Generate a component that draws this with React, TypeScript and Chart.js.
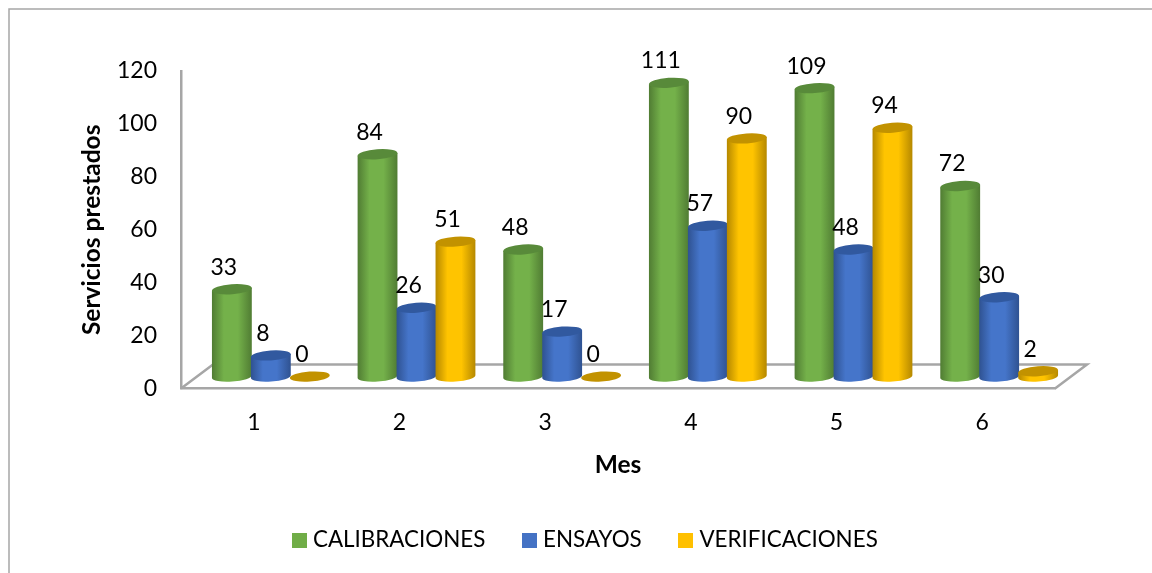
import { useEffect, useRef } from "react";
import { Chart, registerables } from "chart.js";

Chart.register(...registerables);

const months = ["1", "2", "3", "4", "5", "6"];
const calibraciones = [33, 84, 48, 111, 109, 72];
const ensayos = [8, 26, 17, 57, 48, 30];
const verificaciones = [0, 51, 0, 90, 94, 2];

const FONT = "Lato, Carlito, Calibri, sans-serif";
const GRAY = "#a6a6a6";

// Oblique offset of the floor's back edge and of the columns standing on it.
const FLOOR_DX = 32;
const FLOOR_DY = 24;
const BAR_DX = 17;
const BAR_DY = 12;
const TILT = (-4 * Math.PI) / 180;
const CAP_RY = 5;

const LEGEND_DX = 60;
const LEGEND_TOP = 487;

const shades = [
  { edge: "#507c33", mid: "#74b14a", cap: "#588a3a" },
  { edge: "#2f5291", mid: "#4575ca", cap: "#31599f" },
  { edge: "#b58800", mid: "#ffc400", cap: "#c29200" },
];

function drawCylinder(ctx: CanvasRenderingContext2D, x: number, top: number, base: number, width: number, shade: (typeof shades)[number]) {
  const rx = width / 2;
  const side = ctx.createLinearGradient(x - rx, 0, x + rx, 0);
  side.addColorStop(0, shade.edge);
  side.addColorStop(0.3, shade.mid);
  side.addColorStop(0.65, shade.mid);
  side.addColorStop(1, shade.edge);

  if (base - top > 0.5) {
    const dx = rx * Math.cos(TILT);
    const dy = rx * Math.sin(TILT);
    ctx.beginPath();
    ctx.moveTo(x - dx, top - dy);
    ctx.lineTo(x - dx, base - dy);
    ctx.ellipse(x, base, rx, CAP_RY, TILT, Math.PI, 0, true);
    ctx.lineTo(x + dx, top + dy);
    ctx.closePath();
    ctx.fillStyle = side;
    ctx.fill();
  }
  ctx.beginPath();
  ctx.ellipse(x, top, rx, CAP_RY, TILT, 0, Math.PI * 2);
  ctx.fillStyle = shade.cap;
  ctx.fill();
}

// A filled square used as the legend key, so its size can differ from the space it reserves.
function legendSwatch(color: string) {
  const swatch = document.createElement("canvas");
  swatch.width = 15;
  swatch.height = 15;
  const g = swatch.getContext("2d")!;
  g.fillStyle = color;
  g.fillRect(0, 0, 15, 15);
  return swatch;
}

const cylinderPlugin = {
  id: "cylinders",
  afterLayout(chart: any) {
    const legend = chart.legend;
    legend.left += LEGEND_DX;
    legend.right += LEGEND_DX;
    legend.bottom += LEGEND_TOP - legend.top;
    legend.top = LEGEND_TOP;
  },
  beforeDraw(chart: Chart) {
    const { ctx, width, height } = chart;
    ctx.save();
    ctx.strokeStyle = GRAY;
    ctx.lineWidth = 1.5;
    ctx.beginPath();
    ctx.moveTo(9, height);
    ctx.lineTo(9, 9);
    ctx.lineTo(width, 9);
    ctx.stroke();
    ctx.restore();
  },
  beforeDatasetsDraw(chart: Chart) {
    const { ctx, chartArea } = chart;
    const { left, right, bottom } = chartArea;

    ctx.save();
    ctx.strokeStyle = GRAY;
    ctx.lineWidth = 2.5;
    ctx.beginPath();
    ctx.moveTo(left, bottom);
    ctx.lineTo(left + FLOOR_DX, bottom - FLOOR_DY);
    ctx.lineTo(right + FLOOR_DX, bottom - FLOOR_DY);
    ctx.lineTo(right, bottom);
    ctx.stroke();

    chart.data.datasets.forEach((_, i) => {
      chart.getDatasetMeta(i).data.forEach((el: any) => {
        const { x, y, base, width } = el.getProps(["x", "y", "base", "width"], true);
        drawCylinder(ctx, x + BAR_DX, y - BAR_DY, base - BAR_DY, width, shades[i]);
      });
    });

    ctx.fillStyle = "#000";
    ctx.font = `23px ${FONT}`;
    ctx.textAlign = "center";
    ctx.textBaseline = "middle";
    chart.data.datasets.forEach((ds, i) => {
      chart.getDatasetMeta(i).data.forEach((el: any, j: number) => {
        const { x, y } = el.getProps(["x", "y"], true);
        ctx.fillText(String(ds.data[j]), x + BAR_DX - 8, y - BAR_DY - 22);
      });
    });
    ctx.restore();
    return false;
  },
};

export default function App() {
  const ref = useRef<HTMLCanvasElement>(null);

  useEffect(() => {
    const chart = new Chart(ref.current!, {
      type: "bar",
      data: {
        labels: months,
        datasets: [
          { label: "CALIBRACIONES", data: calibraciones, backgroundColor: "#70ad47" },
          { label: "ENSAYOS", data: ensayos, backgroundColor: "#4472c4" },
          { label: "VERIFICACIONES", data: verificaciones, backgroundColor: "#ffc000" },
        ],
      },
      plugins: [cylinderPlugin],
      options: {
        responsive: false,
        animation: false,
        layout: { padding: { top: 71, right: 97, left: 0, bottom: 0 } },
        datasets: { bar: { categoryPercentage: 0.8025, barPercentage: 1.025 } },
        plugins: {
          tooltip: { enabled: false },
          legend: {
            position: "bottom",
            labels: {
              color: "#000",
              usePointStyle: true,
              pointStyleWidth: 4.5,
              boxHeight: 22,
              padding: 42,
              font: { family: FONT, size: 22.4 },
              generateLabels(c: Chart) {
                return Chart.defaults.plugins.legend.labels.generateLabels(c).map((item: any) => ({
                  ...item,
                  pointStyle: legendSwatch(item.fillStyle),
                }));
              },
            },
          },
        },
        scales: {
          x: {
            grid: { display: false, drawTicks: false },
            border: { color: GRAY, width: 2.5 },
            ticks: { color: "#000", padding: 20, font: { family: FONT, size: 23 } },
            title: {
              display: true,
              text: "Mes",
              color: "#000",
              padding: { top: 14, bottom: 19.3 },
              font: { family: FONT, size: 24.5, weight: "bold" },
            },
            afterFit(scale: any) {
              scale.height = 110;
            },
          },
          y: {
            min: 0,
            max: 120,
            grid: { display: false, drawTicks: false },
            border: { color: GRAY, width: 2.5 },
            ticks: { stepSize: 20, color: "#000", padding: 24, font: { family: FONT, size: 23 } },
            title: {
              display: true,
              text: "Servicios prestados",
              color: "#000",
              padding: { top: 77, bottom: 0 },
              font: { family: FONT, size: 24.5, weight: "bold" },
            },
            afterFit(scale: any) {
              scale.width = 181;
            },
          },
        },
      },
    });
    return () => chart.destroy();
  }, []);

  return (
    <canvas
      ref={ref}
      width={1152}
      height={573}
      style={{ position: "fixed", left: 0, top: 0, display: "block", background: "#fff" }}
    />
  );
}
